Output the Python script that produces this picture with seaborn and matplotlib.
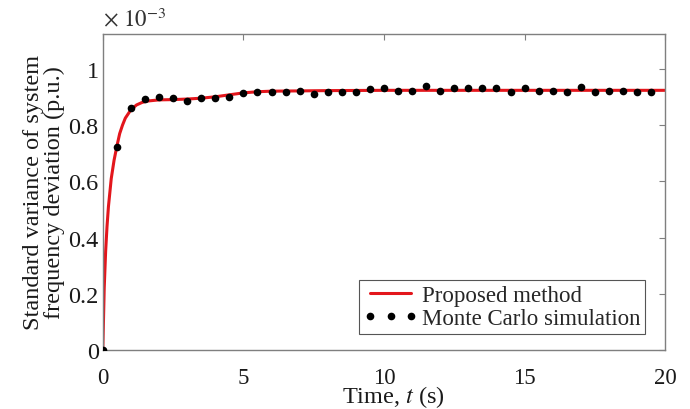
import matplotlib
matplotlib.use("Agg")
import matplotlib.pyplot as plt
import seaborn as sns
import pandas as pd

# Proposed method (values in units of 1e-3)
line_t = [0, 0.05, 0.1, 0.15, 0.2, 0.3, 0.4, 0.5, 0.6, 0.7, 0.8, 1.0, 1.2, 1.4, 1.6,
          2.0, 2.5, 3.0, 3.5, 4.0, 4.5, 5.0, 5.5, 6.0, 7.0, 8.0, 10.0, 12.0, 15.0, 20.0]
line_y = [0, 0.22, 0.35, 0.44, 0.51, 0.61, 0.675, 0.725, 0.77, 0.80, 0.825, 0.855, 0.872, 0.881, 0.886,
          0.890, 0.891, 0.893, 0.896, 0.901, 0.908, 0.915, 0.919, 0.921, 0.922, 0.923, 0.924, 0.924, 0.924, 0.924]

# Monte Carlo simulation (values in units of 1e-3)
mc_t = [0, 0.5, 1.0, 1.5, 2.0, 2.5, 3.0, 3.5, 4.0, 4.5, 5.0, 5.5, 6.0, 6.5, 7.0, 7.5, 8.0, 8.5, 9.0, 9.5,
        10.0, 10.5, 11.0, 11.5, 12.0, 12.5, 13.0, 13.5, 14.0, 14.5, 15.0, 15.5, 16.0, 16.5, 17.0, 17.5,
        18.0, 18.5, 19.0, 19.5]
mc_y = [0, 0.722, 0.860, 0.893, 0.901, 0.897, 0.887, 0.897, 0.897, 0.901, 0.913, 0.919, 0.919, 0.919,
        0.923, 0.911, 0.919, 0.917, 0.919, 0.929, 0.933, 0.923, 0.923, 0.938, 0.923, 0.931, 0.931, 0.931,
        0.931, 0.919, 0.931, 0.923, 0.923, 0.919, 0.935, 0.919, 0.923, 0.923, 0.919, 0.917]

x_ticks = [0, 5, 10, 15, 20]
y_ticks = [0, 0.2, 0.4, 0.6, 0.8, 1.0]
y_tick_labels = ["0", "0.2", "0.4", "0.6", "0.8", "1"]

sns.set_style("white")
plt.rcParams["font.family"] = ["Liberation Serif", "DejaVu Serif"]
plt.rcParams["mathtext.fontset"] = "stix"

fig = plt.figure(figsize=(6.9, 4.1), dpi=100)
ax = fig.add_axes([0.149, 0.144, 0.815, 0.771])

df_line = pd.DataFrame({"t": line_t, "y": line_y})
df_mc = pd.DataFrame({"t": mc_t, "y": mc_y})

sns.lineplot(data=df_line, x="t", y="y", ax=ax, color="#e3161c", linewidth=2.2,
             label="Proposed method", sort=False, estimator=None)
sns.lineplot(data=df_mc, x="t", y="y", ax=ax, color="black", linestyle="none", marker="o",
             markersize=5.5, markeredgewidth=0, label="Monte Carlo simulation", sort=False,
             estimator=None, zorder=3)

ax.set_xlim(0, 20)
ax.set_ylim(0, 1.125)
ax.set_xticks(x_ticks)
ax.set_xticklabels([str(v) for v in x_ticks])
ax.set_yticks(y_ticks)
ax.set_yticklabels(y_tick_labels)

for s in ax.spines.values():
    s.set_color("#7f7f7f")
    s.set_linewidth(1.0)
ax.tick_params(direction="in", length=4, width=0.8, color="#7f7f7f", top=True, right=True,
               labelcolor="#1a1a1a")
ax.tick_params(axis="x", pad=12.5, labelsize=16.5)
ax.tick_params(axis="y", pad=3, labelsize=17.5)

ax.set_xlabel("Time, $t$ (s)", fontsize=17.5, color="#1a1a1a")
ax.xaxis.set_label_coords(0.517, -0.106)
ax.set_ylabel("Standard variance of system\nfrequency deviation (p.u.)", fontsize=17.5,
              color="#1a1a1a", linespacing=0.95)
ax.yaxis.set_label_coords(-0.068, 0.50)

ax.text(0.0, 1.012, r"$\times\ 10^{-3}$", transform=ax.transAxes, fontsize=16.5,
        color="#333333", ha="left", va="bottom")

leg = ax.legend(loc="lower right", bbox_to_anchor=(0.9644, 0.0506), borderaxespad=0,
                numpoints=3, fontsize=16.5, frameon=True, fancybox=False,
                framealpha=1, edgecolor="#555555", borderpad=0.2, labelspacing=0.1,
                handlelength=2.35, handletextpad=0.2)
leg.get_frame().set_linewidth(0.8)

fig.savefig("out.png", dpi=100)
